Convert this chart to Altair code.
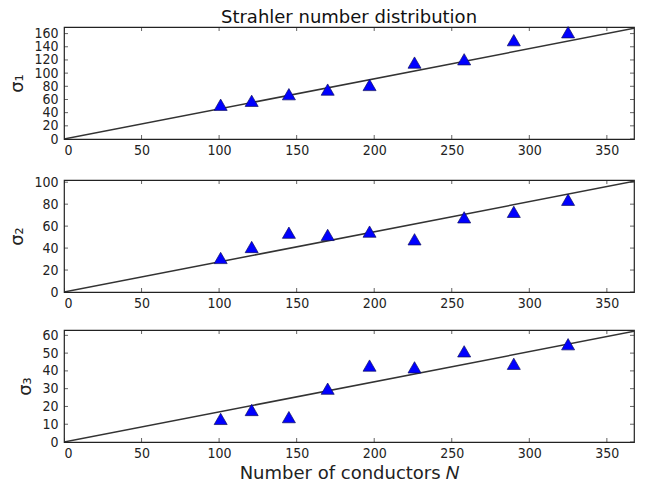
import altair as alt
import pandas as pd

n_conductors = [101, 121, 145, 170, 197, 226, 258, 290, 325]
sigma1 = [52, 58, 68, 75, 82, 116, 121, 150, 162]
sigma2 = [31, 41, 54, 52, 55, 48, 68, 73, 84]
sigma3 = [13, 18, 14, 30, 43, 42, 51, 44, 55]

x_view = 367.5
x_fit_end = 372
y_max = [170, 102, 63]
y_ticks = [list(range(0, 161, 20)), list(range(0, 101, 20)), list(range(0, 61, 10))]
y_titles = ["σ₁", "σ₂", "σ₃"]
x_ticks = [0, 50, 100, 150, 200, 250, 300, 350]

FONT = "DejaVu Sans"
LFONT = "DejaVu Sans Condensed"


def panel(values, ymax, yt, ytitle, last, title=None):
    df = pd.DataFrame({"N": n_conductors, "s": values})
    fit = pd.DataFrame({"N": [0, x_fit_end], "s": [0, ymax]})
    xscale = alt.Scale(domain=[0, x_view], nice=False, zero=True)
    yscale = alt.Scale(domain=[0, ymax], nice=False)
    xaxis = alt.Axis(values=x_ticks, tickSize=0, labelPadding=4, grid=False,
                     title="Number of conductors 𝑁" if last else None,
                     titleFontSize=18, titleFontWeight="normal", titlePadding=4,
                     labelOverlap=False)
    yaxis = alt.Axis(values=yt, tickSize=0, labelPadding=6, grid=False,
                     title=ytitle, titleFontSize=18, titleFontWeight="normal",
                     titlePadding=7, labelOverlap=False)
    line = alt.Chart(fit).mark_line(color="#333333", strokeWidth=1.5, clip=True).encode(
        x=alt.X("N:Q", scale=xscale, axis=xaxis),
        y=alt.Y("s:Q", scale=yscale, axis=yaxis),
    )
    pts = alt.Chart(df).mark_point(shape="triangle-up", filled=True, size=170,
                                   fill="#0000ff", stroke="#101060", strokeWidth=0.7,
                                   opacity=1).encode(
        x=alt.X("N:Q", scale=xscale, axis=xaxis),
        y=alt.Y("s:Q", scale=yscale, axis=yaxis),
    )
    xt = pd.DataFrame({"t": x_ticks})
    ytk = pd.DataFrame({"t": yt})
    tb = alt.Chart(xt).mark_tick(orient="vertical", size=8, color="#222", thickness=1, clip=True).encode(
        x=alt.X("t:Q", scale=xscale, axis=xaxis), y=alt.YDatum(0, scale=yscale, axis=yaxis))
    tt = alt.Chart(xt).mark_tick(orient="vertical", size=8, color="#222", thickness=1, clip=True).encode(
        x=alt.X("t:Q", scale=xscale, axis=xaxis), y=alt.YDatum(ymax, scale=yscale, axis=yaxis))
    tl = alt.Chart(ytk).mark_tick(orient="horizontal", size=8, color="#222", thickness=1, clip=True).encode(
        y=alt.Y("t:Q", scale=yscale, axis=yaxis), x=alt.XDatum(0, scale=xscale, axis=xaxis))
    tr = alt.Chart(ytk).mark_tick(orient="horizontal", size=8, color="#222", thickness=1, clip=True).encode(
        y=alt.Y("t:Q", scale=yscale, axis=yaxis), x=alt.XDatum(x_view, scale=xscale, axis=xaxis))
    layer = alt.layer(line, tb, tt, tl, tr, pts).properties(width=570, height=112)
    if title:
        layer = layer.properties(title=alt.TitleParams(title, fontSize=18, fontWeight="normal",
                                                       font=FONT, offset=-2, anchor="middle",
                                                       color="#111"))
    return layer


chart = alt.vconcat(
    panel(sigma1, y_max[0], y_ticks[0], y_titles[0], False, "Strahler number distribution"),
    panel(sigma2, y_max[1], y_ticks[1], y_titles[1], False),
    panel(sigma3, y_max[2], y_ticks[2], y_titles[2], True),
    spacing=16,
).properties(padding=0).configure_view(
    stroke="#222", strokeWidth=1.2
).configure_axis(
    labelFont=LFONT, titleFont=FONT, labelFontSize=14, labelColor="#222",
    titleColor="#222", domain=False, labelOverlap=False
)

chart.save("out.html", embed_options={"renderer": "svg", "actions": False})
